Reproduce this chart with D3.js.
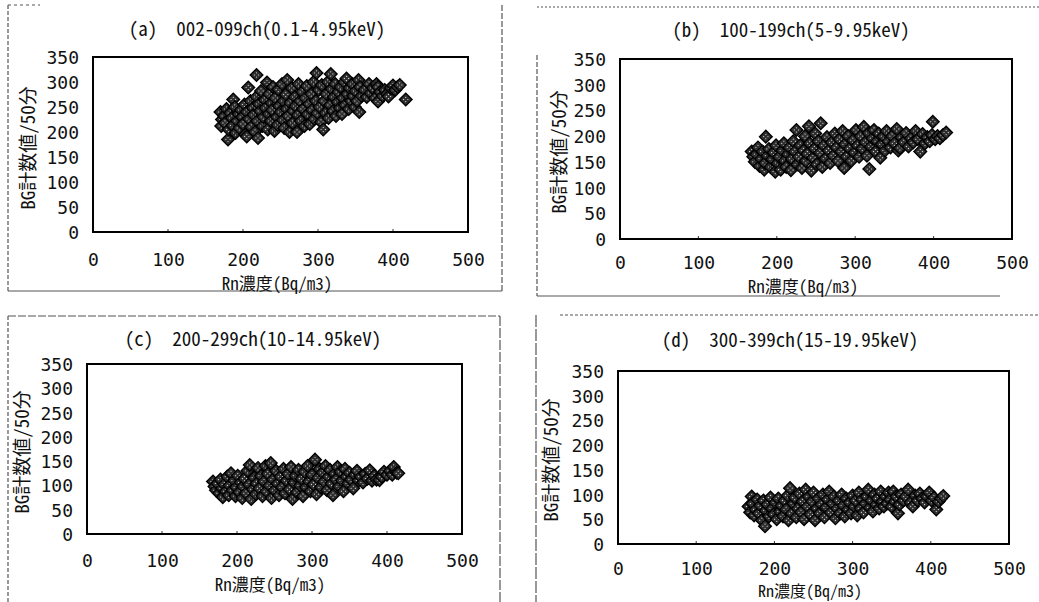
<!DOCTYPE html>
<html><head><meta charset="utf-8">
<script src="https://cdn.jsdelivr.net/npm/d3@7"></script>
<style>
body{margin:0;background:#fff;}
svg{display:block;}
text{fill:#111;}
</style></head>
<body><svg id="c" width="1039" height="602"></svg>
<script>
// ---- data ----
const titles = ["(a)  002-099ch(0.1-4.95keV)", "(b)  100-199ch(5-9.95keV)", "(c)  200-299ch(10-14.95keV)", "(d)  300-399ch(15-19.95keV)"];
const xTicks = [0, 100, 200, 300, 400, 500];
const yTicks = [0, 50, 100, 150, 200, 250, 300, 350];
const xTitle = "Rn濃度(Bq/m3)";
const yTitle = "BG計数値/50分";

const seriesA = [[170,240],[172,225],[171,212],[175,232],[176,218],[178,246],[180,185],[181,205],[183,238],[185,228],[186,213],[187,265],[189,250],[190,198],[192,222],[194,236],[195,208],[197,244],[199,230],[200,216],
[202,255],[203,195],[205,191],[205,240],[207,289],[208,226],[210,262],[211,210],[213,248],[214,234],[216,200],[218,314],[218,270],[219,222],[220,188],[221,256],[223,242],[224,282],[226,212],[227,230],[229,264],[230,248],[232,299],[233,205],[234,236],[235,276],[237,222],[238,258],[239,244],[240,290],
[242,202],[243,268],[245,230],[246,214],[247,285],[248,252],[250,240],[252,296],[253,224],[254,262],[255,208],[257,275],[258,246],[259,304],[260,232],[262,200],[263,258],[265,288],[266,218],[267,242],[269,270],[270,252],[272,200],[273,234],[274,296],[276,262],[277,222],[279,280],[280,246],[282,212],[283,268],[285,292],[286,236],[288,256],[289,216],[291,276],[292,244],[294,300],[295,226],[297,262],[298,318],[299,238],
[301,284],[302,250],[304,220],[305,294],[307,205],[308,262],[310,238],[311,276],[313,300],[314,228],[316,254],[317,316],[318,286],[320,242],[321,270],[323,296],[324,232],[326,260],[327,280],[329,248],[330,290],[332,236],[333,268],[335,300],[336,254],[338,307],[339,276],[341,246],[342,288],[344,262],[346,296],[347,272],[349,250],[350,282],[352,262],[354,304],[355,240],[356,290],[358,272],
[362,284],[365,270],[368,296],[370,278],[373,288],[376,268],[378,296],[380,261],[380,290],[383,280],[386,272],[389,284],[392,276],[394,271],[397,288],[400,293],[403,284],[406,290],[409,294],[417,265]];

const seriesB = [[168,170],[170,160],[172,150],[174,165],[176,178],[178,142],[180,156],[182,170],[184,135],[185,148],[186,199],[188,162],[190,175],[192,140],[194,155],[196,168],[198,131],[199,182],[201,148],[203,160],[205,135],[207,172],[209,186],[210,152],[212,140],[214,165],[216,178],[218,134],[219,156],[221,190],[223,170],[225,212],[226,145],[228,160],[230,182],[232,138],[234,172],[236,200],[237,152],[239,166],[241,219],[242,186],[244,133],[246,158],[248,176],[249,205],[251,145],[253,190],[255,168],[256,225],[258,140],[260,182],[262,156],[264,198],[266,172],[268,148],[270,188],[272,162],[274,205],[276,178],[278,152],[280,194],[282,170],[284,210],[286,138],[287,184],[289,160],[291,200],[293,176],[295,152],[297,192],[299,168],[301,212],[303,182],[305,160],[307,200],[309,176],[311,218],[313,188],[315,162],[317,206],[318,136],[320,180],[322,196],[324,212],[326,170],[328,190],[330,205],[332,158],[334,184],[336,200],[338,172],[340,210],[342,190],[345,178],[347,200],[350,186],[353,214],[355,172],[357,177],[359,198],[362,188],[365,206],[368,180],[371,196],[374,188],[377,210],[380,194],[383,170],[386,204],[389,186],[392,198],[395,190],[398,202],[399,228],[402,194],[405,200],[408,196],[412,202],[416,207]];

const seriesC = [[168,108],[170,98],[172,90],[174,104],[176,84],[178,112],[180,94],[181,76],[183,102],[185,88],[187,118],[189,80],[190,100],[192,125],[194,90],[196,110],[198,78],[199,96],[201,120],[203,86],[205,106],[207,74],[208,98],[210,114],[212,84],[214,130],[216,102],[217,142],[219,72],[221,92],[223,116],[225,82],[226,104],[228,136],[230,94],[232,120],[234,78],[236,108],[238,140],[239,88],[241,124],[243,100],[245,146],[246,74],[248,112],[250,90],[252,130],[254,104],[256,80],[258,118],[260,96],[262,134],[264,84],[266,110],[268,124],[270,92],[272,138],[274,72],[276,106],[278,120],[280,86],[282,132],[284,100],[286,114],[288,78],[290,128],[292,96],[294,140],[296,108],[298,88],[300,122],[302,102],[304,153],[306,82],[308,116],[310,134],[312,96],[314,126],[316,108],[318,140],[320,90],[322,118],[324,132],[326,104],[328,80],[330,124],[332,112],[334,138],[336,98],[338,128],[340,110],[342,88],[344,134],[346,118],[348,104],[350,126],[352,112],[355,94],[357,122],[360,130],[362,110],[365,118],[368,106],[371,124],[374,114],[377,131],[380,110],[383,120],[386,112],[390,111],[393,118],[396,128],[400,122],[404,130],[407,122],[409,138],[413,126],[415,125]];

const seriesD = [[167,76],[169,64],[171,96],[172,82],[174,58],[176,70],[178,90],[180,62],[182,78],[184,48],[186,88],[188,36],[189,68],[191,80],[193,56],[195,94],[197,72],[199,60],[201,84],[203,50],[205,92],[207,66],[209,78],[211,56],[213,88],[215,70],[217,98],[218,48],[220,113],[222,62],[224,82],[226,94],[228,54],[230,72],[232,102],[234,64],[236,86],[238,50],[240,110],[242,76],[244,96],[246,60],[248,86],[250,104],[252,48],[254,72],[256,92],[258,62],[260,80],[262,100],[264,54],[266,74],[268,90],[270,106],[272,64],[274,82],[276,96],[278,52],[280,72],[282,88],[284,62],[286,100],[288,78],[290,56],[292,92],[294,70],[296,84],[298,62],[300,98],[302,76],[304,88],[306,58],[308,104],[310,72],[312,90],[314,64],[316,82],[318,96],[320,110],[322,74],[324,88],[326,66],[328,100],[330,80],[332,92],[334,72],[336,106],[338,86],[340,76],[342,96],[344,82],[346,104],[348,90],[350,76],[352,106],[354,86],[356,96],[358,62],[360,80],[362,100],[365,88],[368,96],[371,110],[374,84],[377,76],[380,98],[383,88],[386,102],[389,92],[392,84],[395,96],[398,104],[401,88],[404,94],[407,70],[410,86],[413,92],[416,97]];

const allSeries = [seriesA, seriesB, seriesC, seriesD];

// ---- layout (pixel geometry of each panel) ----
const layout = [
  {l:93,  r:468,  t:57,  b:232, titleX:257, titleY:36,  yTitleX:26,  yTitleY:148, xLabY:266, xTitleX:277, xTitleY:290, xTitleSize:17},
  {l:620, r:1012, t:59,  b:239, titleX:791, titleY:37,  yTitleX:557, yTitleY:152, xLabY:269, xTitleX:803, xTitleY:293, xTitleSize:17},
  {l:87,  r:462,  t:364, b:534, titleX:253, titleY:346, yTitleX:20,  yTitleY:452, xLabY:567, xTitleX:270, xTitleY:591, xTitleSize:17},
  {l:618, r:1009, t:371, b:544, titleX:790, titleY:347, yTitleX:549, yTitleY:460, xLabY:575, xTitleX:810, xTitleY:597, xTitleSize:16}
];
const frames = [
  [[8,5,8,291,"4,2"],[8,291,502,291,null],[502,5,502,291,"6,2"],[8,5,40,5,"3,3"]],
  [[537,7,1039,7,"2,2"],[537,55,537,296,"5,2"],[537,296,1000,296,null]],
  [[8,316,500,316,"8,2"],[8,316,8,602,"4,2"],[500,316,500,602,"10,2"]],
  [[560,315,1039,315,"3,2"],[536,315,536,602,"12,2"]]
];

const svg = d3.select("#c");
const defs = svg.append("defs");
const pat = defs.append("pattern").attr("id","dots").attr("patternUnits","userSpaceOnUse").attr("width",3).attr("height",3);
pat.append("rect").attr("width",3).attr("height",3).attr("fill","#2e2e2e");
pat.append("rect").attr("x",1).attr("y",1).attr("width",1).attr("height",1).attr("fill","#e8e8e8");

frames.forEach(f => f.forEach(s => {
  const ln = svg.append("line").attr("x1",s[0]).attr("y1",s[1]).attr("x2",s[2]).attr("y2",s[3])
    .attr("stroke","#555").attr("stroke-width",1.2);
  if (s[4]) ln.attr("stroke-dasharray", s[4]);
}));

const sym = d3.symbol().type(d3.symbolSquare).size(80);
const digitFont = '"DejaVu Sans Mono",monospace';
const textFont = '"Noto Sans Mono CJK JP","DejaVu Sans Mono",monospace';

layout.forEach((L, i) => {
  const g = svg.append("g");
  const x = d3.scaleLinear().domain([0,500]).range([L.l, L.r]);
  const y = d3.scaleLinear().domain([0,350]).range([L.b, L.t]);

  // y tick labels
  g.append("g").attr("transform",`translate(${L.l},0)`)
    .call(d3.axisLeft(y).tickValues(yTicks).tickSize(0).tickPadding(14).tickFormat(d3.format("d")))
    .call(a => { a.select(".domain").remove();
      a.selectAll("text").style("font-family",digitFont).style("font-size","18px").style("fill","#111")
        .attr("dy","0.36em"); });
  // x tick labels
  g.append("g").attr("transform",`translate(0,${L.b})`)
    .call(d3.axisBottom(x).tickValues(xTicks).tickSize(0).tickPadding(0).tickFormat(d3.format("d")))
    .call(a => { a.select(".domain").remove();
      a.selectAll("text").style("font-family",digitFont).style("font-size","18px").style("fill","#111")
        .attr("dy",null).attr("y", L.xLabY - L.b); });

  // small inner ticks
  g.selectAll(".xt").data(xTicks.slice(1,-1)).enter().append("line")
    .attr("x1",d=>x(d)).attr("x2",d=>x(d)).attr("y1",L.b).attr("y2",L.b-3).attr("stroke","#333");

  // markers
  g.append("g").selectAll("path").data(allSeries[i]).enter().append("path")
    .attr("d", sym)
    .attr("transform", d => `translate(${x(d[0])},${y(d[1])}) rotate(45)`)
    .attr("fill","url(#dots)").attr("stroke","#000").attr("stroke-width",1.4);

  // plot frame
  g.append("rect").attr("x",L.l).attr("y",L.t).attr("width",L.r-L.l).attr("height",L.b-L.t)
    .attr("fill","none").attr("stroke","#000").attr("stroke-width",2);

  // titles
  g.append("text").attr("x",L.titleX).attr("y",L.titleY).attr("text-anchor","middle")
    .style("font-family",textFont).style("font-size","19px").style("white-space","pre").text(titles[i]);
  g.append("text").attr("x",L.xTitleX).attr("y",L.xTitleY).attr("text-anchor","middle")
    .style("font-family",textFont).style("font-size",L.xTitleSize + "px").text(xTitle);
  g.append("text").attr("transform",`translate(${L.yTitleX},${L.yTitleY}) rotate(-90)`)
    .attr("text-anchor","middle").attr("dominant-baseline","central")
    .style("font-family",textFont).style("font-size","19px").text(yTitle);
});
</script></body></html>
